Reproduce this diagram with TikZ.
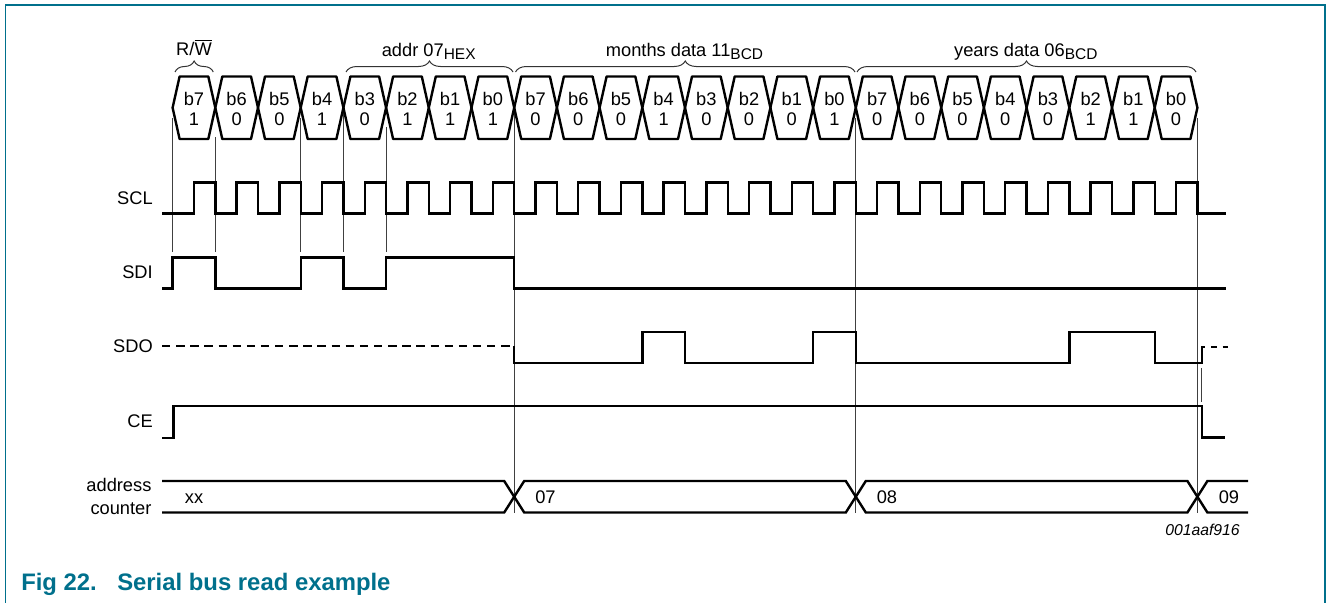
\documentclass[tikz,border=0pt]{standalone}
\usepackage{fontspec}
\setmainfont{Liberation Sans}
\usetikzlibrary{decorations.pathreplacing}
\definecolor{nxpteal}{RGB}{0,112,140}
\newcommand\subtxt[1]{\raisebox{-2.25pt}{\fontsize{11.6}{13}\selectfont #1}}
\begin{document}
\begin{tikzpicture}[x=0.75pt,y=-0.75pt,
  wave/.style={line width=1.8pt, line join=round},
  guide/.style={line width=0.7pt, black!75},
  lbl/.style={font=\fontsize{13.7}{16}\selectfont, inner sep=0pt},
  brc/.style={decorate, decoration={brace, amplitude=8.25pt}, line width=0.75pt, black!80},
  figcap/.style={font=\fontsize{17.9}{20}\selectfont\bfseries, text=nxpteal, inner sep=0pt, anchor=base west},
]
\useasboundingbox (0,0) rectangle (1328,603);
\draw[nxpteal, line width=1pt] (5.3,603) -- (5.3,5) -- (1325,5) -- (1325,603);

% guide lines
\foreach \x/\ya/\yb in {172.6/118/252, 215.3/137/252, 300.7/118/252, 343.4/112/252, 386.1/127/252,
                        514.2/112/513, 855.8/118/513, 1197.4/118/513, 1201.7/368/402}
  \draw[guide] (\x,\ya) -- (\x,\yb);

% bit cells
\def\bits{{1,0,0,1,0,1,1,1,0,0,0,1,0,0,0,1,0,0,0,0,0,1,1,0}}
\foreach \k in {0,...,23} {
  \pgfmathsetmacro{\xa}{172.6+42.7*\k}
  \pgfmathsetmacro{\xb}{\xa+42.7}
  \pgfmathsetmacro{\xm}{\xa+21.35}
  \pgfmathtruncatemacro{\bn}{7-mod(\k,8)}
  \pgfmathtruncatemacro{\bv}{\bits[\k]}
  \draw[wave] (\xa,107.7) -- (\xa+7,76.5) -- (\xb-7,76.5) -- (\xb,107.7) -- (\xb-7,139) -- (\xa+7,139) -- cycle;
  \node[lbl, anchor=base] (bit\k) at (\xm,105) {b\bn};
  \node[lbl, anchor=base] (val\k) at (\xm,125) {\bv};
}

% braces and their labels
\draw[brc] (175,72) -- (213.3,72);
\draw[brc] (346,72) -- (513,72);
\draw[brc] (515.5,72) -- (855,72);
\draw[brc] (857,72) -- (1196,72);
\node[lbl, anchor=base] (rw) at (194,55) {R/$\overline{\mbox{W}}$};
\node[lbl, anchor=base] (addr) at (428.7,56.5) {addr 07\subtxt{HEX}};
\node[lbl, anchor=base] (months) at (684.5,56) {months data 11\subtxt{BCD}};
\node[lbl, anchor=base] (years) at (1025.8,56) {years data 06\subtxt{BCD}};

% signal labels
\node[lbl, anchor=base east] (scl) at (153,204) {SCL};
\node[lbl, anchor=base east] (sdi) at (153,278.5) {SDI};
\node[lbl, anchor=base east] (sdo) at (153,352.5) {SDO};
\node[lbl, anchor=base east] (ce) at (153,427.3) {CE};
\node[lbl, anchor=base east] (addrl) at (151.7,491) {address};
\node[lbl, anchor=base east] (cntl) at (151.7,514) {counter};

% SCL
\draw[wave, line join=miter] (162,213.3)
  foreach \k in {0,...,23} { -- ({172.6+42.7*\k+21.35},213.3) -- ++(0,-31) -- ({172.6+42.7*(\k+1)},182.3) -- ++(0,31) }
  -- (1226,213.3);

% SDI
\draw[wave, line join=miter] (162,288.3) -- (172.6,288.3) -- (172.6,257.3) -- (215.3,257.3) -- (215.3,288.3)
  -- (300.7,288.3) -- (300.7,257.3) -- (343.4,257.3) -- (343.4,288.3) -- (386.1,288.3) -- (386.1,257.3)
  -- (514.2,257.3) -- (514.2,288.3) -- (1226,288.3);

% SDO
\draw[wave, dash pattern=on 6.3pt off 4.3pt, line width=1.7pt] (162,345.7) -- (514.2,345.7);
\draw[wave, line join=miter] (514.2,345.7) -- (514.2,362.7) -- (642.3,362.7) -- (642.3,331.7) -- (685,331.7) -- (685,362.7)
  -- (813.1,362.7) -- (813.1,331.7) -- (855.8,331.7) -- (855.8,362.7) -- (1069.3,362.7) -- (1069.3,331.7)
  -- (1154.7,331.7) -- (1154.7,362.7) -- (1201.7,362.7) -- (1201.7,346.7) -- (1205,346.7);
\draw[wave, dash pattern=on 4.5pt off 4.3pt, line width=1.7pt] (1211,346.7) -- (1228,346.7);

% CE
\draw[wave, line join=miter] (162,438) -- (173.3,438) -- (173.3,406) -- (1201.7,406) -- (1201.7,437.5) -- (1225,437.5);

% address counter bus
\draw[wave, line join=miter] (162,481) -- (504.2,481) -- (514.2,496.75) -- (504.2,512.5) -- (162,512.5);
\draw[wave, line join=miter] (524.2,481) -- (845.8,481) -- (855.8,496.75) -- (845.8,512.5) -- (524.2,512.5) -- (514.2,496.75) -- cycle;
\draw[wave, line join=miter] (865.8,481) -- (1187.4,481) -- (1197.4,496.75) -- (1187.4,512.5) -- (865.8,512.5) -- (855.8,496.75) -- cycle;
\draw[wave, line join=miter] (1248,481) -- (1207.4,481) -- (1197.4,496.75) -- (1207.4,512.5) -- (1248,512.5);
\node[lbl, anchor=base] (xx) at (194,503) {xx};
\node[lbl, anchor=base west] (c07) at (535,503) {07};
\node[lbl, anchor=base west] (c08) at (876.5,503) {08};
\node[lbl, anchor=base west] (c09) at (1218.5,503) {09};

% figure code and caption
\node[font=\fontsize{11.8}{14}\selectfont\itshape, inner sep=0pt, anchor=base east] (code) at (1240,535.7) {001aaf916};
\node[figcap] (fig) at (21,590) {Fig 22.};
\node[figcap] (title) at (117,590) {Serial bus read example};
\end{tikzpicture}
\end{document}
